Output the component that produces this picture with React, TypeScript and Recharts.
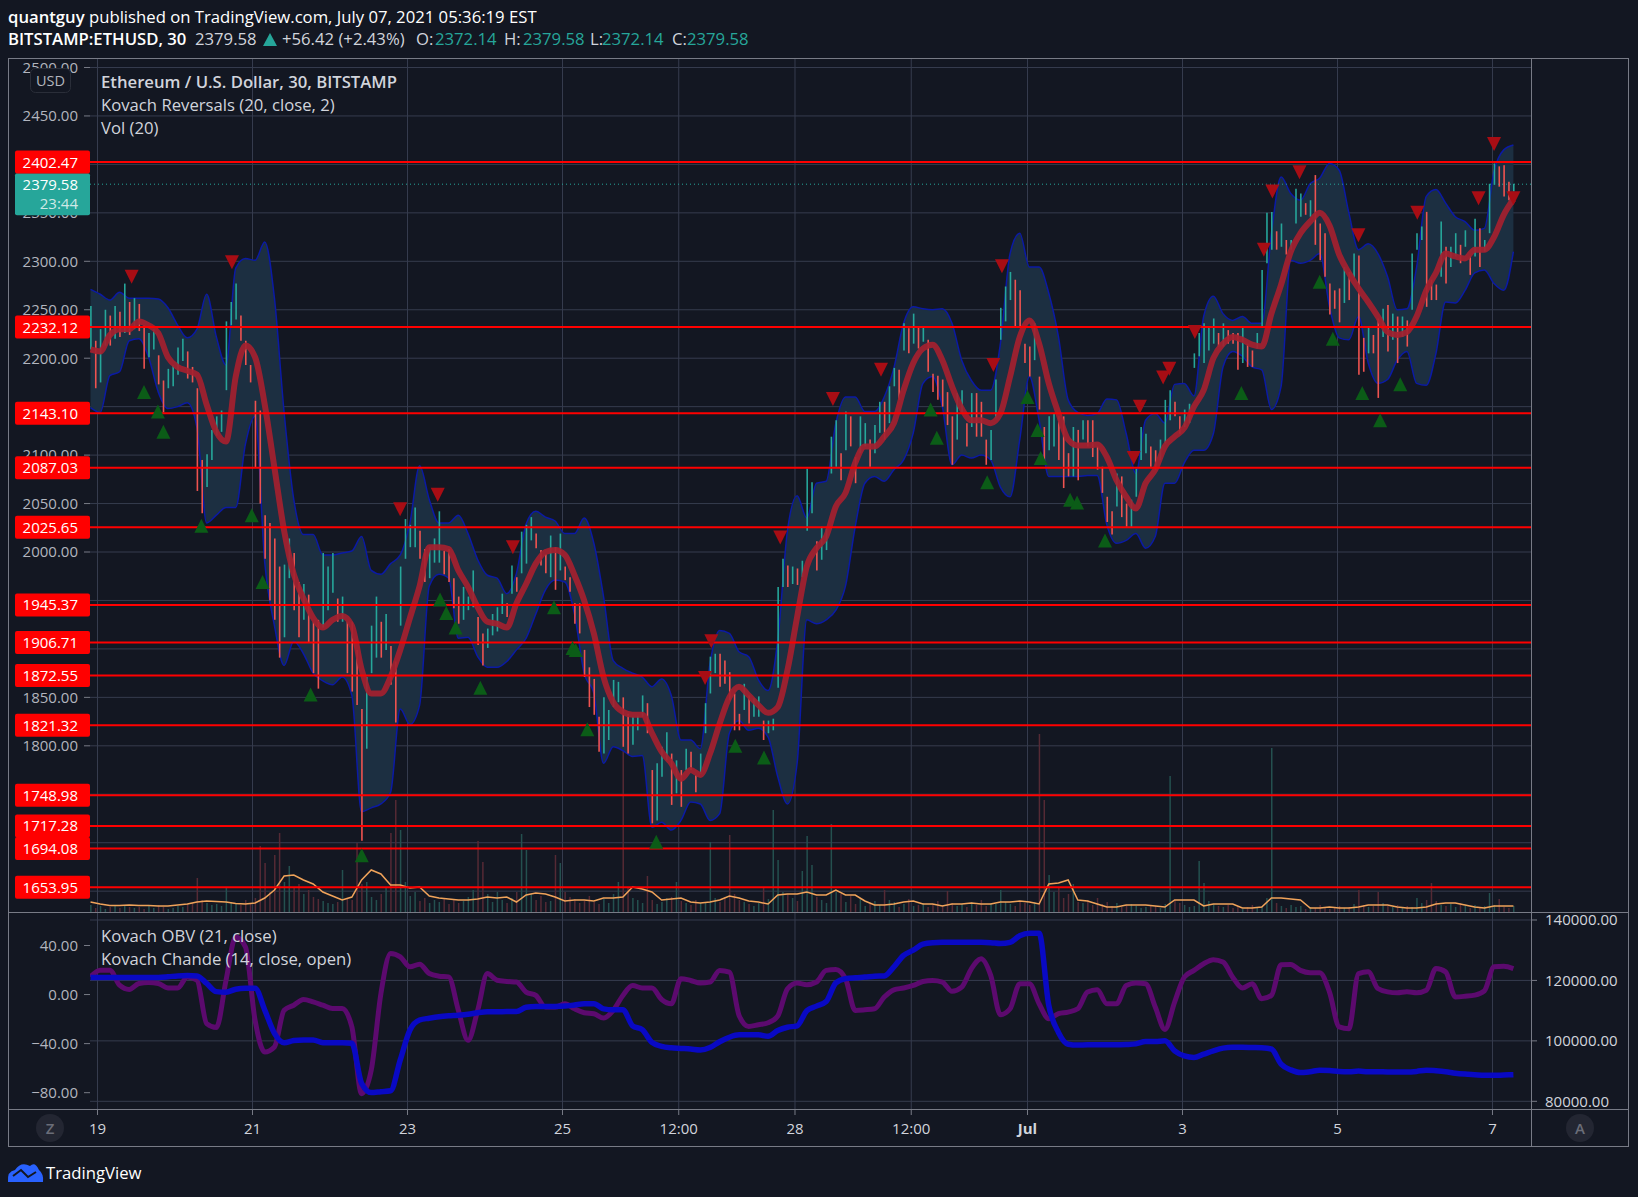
import {
  Area,
  Bar,
  CartesianGrid,
  Cell,
  ComposedChart,
  Line,
  ReferenceLine,
  Scatter,
  XAxis,
  YAxis,
} from "recharts";

// ── Values ───────────────────────────────────────────────────────────────────
// Candles are sampled every three 30-minute bars, the indicator lines every six.
const candleHigh = [
  2254,2218,2230,2250,2244,2254,2248,2277,2258,2262,
  2256,2234,2226,2230,2203,2177,2189,2193,2211,2220,
  2207,2191,2169,2095,2101,2126,2140,2146,2238,2258,
  2277,2244,2218,2193,2156,2146,2038,2030,2014,1985,
  1987,2014,1999,1969,1967,1956,1928,1930,1999,1985,
  1999,1952,1954,1928,1928,1899,1838,1871,1924,1954,
  1928,1936,1903,1887,1985,2034,2028,2046,2022,2003,
  2005,2014,2042,2001,2003,1973,1954,1964,1954,1981,
  1933,1916,1921,1936,1943,1957,1947,1986,1974,2021,
  2028,2036,2019,2002,1998,2017,2005,2019,1985,1974,
  1947,1947,1899,1881,1869,1830,1850,1837,1868,1866,
  1850,1833,1830,1831,1852,1844,1775,1782,1799,1814,
  1792,1785,1775,1797,1794,1770,1792,1844,1892,1895,
  1895,1888,1876,1854,1833,1864,1852,1849,1851,1826,
  1826,1828,1964,1993,1986,1985,1983,1991,2086,2072,
  2011,2026,2024,2119,2136,2102,2145,2140,2098,2140,
  2133,2116,2131,2155,2155,2171,2190,2188,2236,2231,
  2246,2233,2233,2219,2184,2182,2178,2165,2140,2164,
  2167,2133,2164,2164,2155,2116,2126,2178,2252,2274,
  2289,2281,2270,2215,2212,2236,2181,2129,2140,2143,
  2140,2140,2102,2129,2126,2136,2136,2136,2109,2088,
  2057,2042,2081,2078,2050,2054,2086,2129,2122,2109,
  2105,2116,2157,2167,2155,2140,2147,2153,2205,2226,
  2236,2233,2241,2226,2236,2229,2226,2226,2233,2215,
  2208,2226,2291,2350,2351,2331,2339,2322,2322,2375,
  2370,2360,2363,2389,2339,2329,2277,2270,2272,2294,
  2289,2308,2306,2221,2233,2224,2241,2251,2255,2246,
  2243,2243,2239,2308,2329,2336,2351,2281,2276,2341,
  2315,2315,2329,2317,2332,2305,2344,2334,2322,2380,
  2401,2398,2399,2382,2380,
];
const candleLow = [
  2209,2169,2175,2213,2213,2220,2222,2226,2224,2230,
  2228,2189,2201,2209,2173,2144,2169,2171,2183,2197,
  2179,2175,2063,2040,2067,2095,2120,2124,2167,2234,
  2240,2218,2193,2175,2087,2050,1993,1950,1930,1891,
  1912,1973,1940,1912,1930,1907,1875,1859,1922,1940,
  1958,1928,1928,1875,1856,1842,1702,1797,1875,1891,
  1891,1899,1863,1824,1924,1993,2005,2005,1993,1969,
  1973,1989,1989,1977,1969,1942,1926,1930,1940,1943,
  1904,1883,1901,1914,1918,1936,1933,1957,1959,1978,
  1988,2012,2004,1986,1978,1974,1961,1981,1971,1959,
  1926,1916,1871,1840,1832,1794,1792,1806,1840,1845,
  1799,1792,1801,1816,1830,1813,1720,1723,1768,1785,
  1739,1751,1737,1775,1775,1752,1771,1813,1854,1875,
  1861,1864,1847,1816,1816,1837,1823,1830,1830,1806,
  1813,1816,1860,1964,1964,1967,1966,1974,2022,2040,
  1981,1992,2002,2081,2088,2074,2105,2109,2071,2102,
  2109,2088,2102,2123,2116,2133,2171,2157,2208,2205,
  2215,2210,2217,2186,2165,2157,2150,2131,2090,2116,
  2143,2109,2129,2119,2119,2090,2095,2138,2219,2238,
  2260,2233,2233,2195,2181,2198,2147,2090,2105,2109,
  2095,2066,2078,2078,2074,2116,2109,2098,2085,2061,
  2031,2018,2047,2036,2026,2026,2057,2095,2102,2088,
  2085,2095,2112,2136,2140,2122,2129,2133,2190,2202,
  2195,2208,2215,2212,2212,2215,2215,2188,2195,2191,
  2191,2210,2233,2298,2312,2312,2315,2307,2312,2339,
  2346,2348,2346,2317,2301,2284,2245,2251,2237,2257,
  2260,2283,2183,2186,2205,2205,2159,2222,2207,2219,
  2195,2222,2212,2250,2312,2322,2253,2260,2260,2284,
  2277,2294,2305,2298,2315,2286,2305,2294,2310,2329,
  2379,2377,2367,2363,2372,
];
const volume = [
  7,4,6,3,5,7,4,6,5,4, 5,3,6,4,7,5,3,4,6,5,
  8,9,34,12,9,7,8,6,24,10, 9,7,12,8,14,66,49,20,57,79,
  30,46,24,28,18,22,15,13,11,9, 8,10,42,14,12,69,28,30,15,12,
  18,25,79,112,82,30,16,20,11,14, 9,12,10,14,8,13,9,11,15,22,
  71,50,18,10,20,12,9,14,20,78, 62,18,12,16,10,11,57,49,20,15,
  13,9,11,16,10,8,13,9,18,30, 165,24,14,12,9,36,12,8,10,14,
  15,30,11,9,7,12,9,10,70,14, 10,15,77,18,12,10,8,6,9,24,
  13,102,52,20,18,14,11,41,76,47, 15,12,9,88,20,18,10,16,8,14,
  6,9,11,7,22,12,10,5,8,13, 6,7,9,5,8,11,7,21,9,6,
  8,5,10,7,12,6,9,8,22,10, 8,6,11,9,7,10,178,112,37,20,
  25,14,18,28,10,9,12,7,14,8, 10,6,9,5,7,8,6,4,5,7,
  6,4,8,136,12,9,7,5,6,51, 29,11,8,6,5,7,4,6,3,5,
  7,4,5,14,164,9,6,4,7,5, 6,3,5,4,7,5,3,4,6,4,
  5,8,22,7,5,6,20,9,6,5, 7,4,6,5,14,9,12,29,11,7,
  6,8,5,9,6,4,7,5,6,19, 7,13,5,4,6,
];
const upperBand = [
  2271,2266,2260,2268,2262,2262,2262,2261,2252,2234,2221,2230,2266,2222,2193,2293,2303,2301,2320,2262,
  2144,2054,2018,2018,1997,1997,1999,2001,2016,1981,1977,1988,1997,2030,2089,2054,2030,2030,
  2038,2019,1992,1976,1973,1957,1978,2029,2042,2036,2032,2019,2019,2035,2009,1954,1888,1880,1875,1871,
  1861,1869,1852,1806,1806,1797,1885,1919,1916,1897,1892,1868,1857,1909,2022,2058,2035,2071,
  2073,2133,2160,2160,2145,2145,2160,2190,2236,2253,2251,2250,2251,2236,2198,2177,2167,2167,2215,2308,
  2329,2294,2294,2267,2222,2157,2144,2141,2143,2158,2157,2122,2081,2136,2143,2133,2173,2174,2161,
  2243,2264,2246,2239,2243,2236,2236,2329,2387,2370,2363,2380,2386,2401,2394,2350,2312,2318,2308,2284,
  2250,2251,2294,2367,2374,2360,2346,2341,2332,2334,2393,2415,2420,
];
const lowerBand = [
  2149,2144,2182,2186,2218,2220,2201,2165,2148,2150,2154,2128,2030,2038,2046,2046,2111,2140,1989,1924,
  1883,1908,1895,1875,1867,1863,1871,1852,1732,1736,1740,1752,1838,1822,1842,1965,1977,1973,
  1911,1912,1892,1881,1881,1887,1899,1911,1936,1961,1971,1969,1936,1875,1854,1782,1799,1795,1789,1790,
  1716,1721,1713,1723,1742,1740,1723,1730,1813,1826,1816,1818,1809,1768,1740,1782,1930,1926,
  1930,1940,1965,2026,2071,2078,2073,2085,2095,2123,2174,2181,2150,2090,2100,2097,2100,2095,2067,2057,
  2116,2181,2136,2078,2078,2078,2078,2079,2079,2028,2009,2012,2019,2004,2016,2071,2071,2092,2105,
  2105,2122,2191,2207,2202,2191,2188,2147,2171,2301,2298,2301,2308,2253,2221,2219,2243,2195,2174,2178,
  2198,2207,2174,2172,2205,2258,2257,2270,2288,2291,2277,2270,2310,
];
const middleBand = [
  2209,2207,2224,2230,2230,2238,2234,2226,2201,2191,2187,2183,2152,2124,2114,2181,2213,2201,2152,2087,
  2022,1977,1952,1932,1922,1930,1934,1924,1879,1854,1854,1871,1899,1932,1965,2005,2005,2003,
  1981,1964,1943,1928,1926,1922,1947,1967,1988,2000,2002,1997,1976,1950,1916,1871,1845,1835,1832,1832,
  1813,1794,1782,1766,1775,1770,1792,1823,1850,1861,1852,1842,1834,1840,1878,1933,1985,2004,
  2016,2047,2061,2092,2109,2109,2119,2133,2167,2195,2210,2214,2198,2171,2148,2136,2136,2133,2143,2181,
  2222,2239,2215,2174,2143,2116,2110,2110,2111,2098,2074,2057,2045,2071,2085,2109,2119,2128,2150,
  2167,2200,2215,2222,2219,2214,2212,2246,2276,2310,2329,2341,2350,2337,2307,2288,2272,2258,2243,2227,
  2224,2227,2243,2270,2288,2308,2305,2303,2312,2312,2325,2348,2364,
];
const volumeAverage = [
  10,8,6.5,6.5,7,6.5,6.5,6,6,7, 8,10,11,10.5,10,8.5,8,9,14,22,
  36,37,32,28,20,16,12,15,32,42, 38,27,27,24,25,16,14,13,12,12,
  13,15,14,15,10,17,19,18,15,11, 12,12,11,14,14,15,25,23,20,12,
  13,14,10,9,10,12,16,14,11,10, 8,17,18,18,20,17,17,22,17,17,
  11,7,7,8,10,11,8,8,6,8, 8,9,8,8,10,10,11,10,8,28,
  29,32,12,11,8,5,5,7,7,7, 6,5,12,12,12,6,8,8,8,4,
  4,5,14,14,13,12,4,4,5,4, 4,5,7,7,7,5,4,4,5,8,
  9,9,7,5,4,6,6,6,
];
const chandeValues = [
  14.4,19.9,19.9,7.6,4.1,9,9.8,9,5.4,5.4,
  14.4,11.7,-23.7,-26.9,11.7,47,38.9,-21,-46.8,-42.7,
  -12.8,-8.7,-4.1,-6,-8.7,-11.4,-11.4,-26.4,-80.8,-61.8,
  0.8,33.5,30.7,22.6,24.8,17.1,15,14.4,-12.8,-37.3,
  -12.8,17.1,11.7,10.7,10.2,2,-0.7,-10.2,-10.2,-7.5,
  -11.6,-14.8,-15.6,-19.2,-12.9,-0.7,7.4,5.3,5.3,-4,
  -7.5,12.9,11.5,9.4,10.2,19.7,18.3,-17,-26,-24.6,
  -23,-17.5,4.7,9.4,8,10.2,19.7,20.5,12.9,-12.9,
  -12.4,-11.6,-2,3.9,5.3,7.4,10.7,11.5,10.2,2.6,
  6,21,29.2,15.6,-16.5,-11.6,8.8,8.8,-7.5,-19.7,
  -15.6,-14.3,-11.6,2,3.9,-7.5,-7.5,7.4,9.4,8.8,
  -10.2,-28.4,-6.1,14.2,19.7,25.1,28.4,26.5,14.2,5.3,
  8.8,-3.4,-0.7,24.3,24.6,19.7,17.8,17.8,2,-26.4,
  -27.8,17.1,18.5,4.9,2.2,1.4,2.2,1.4,3.5,21.2,
  18.5,-1.9,-1.4,-0.5,3,22.6,23.1,21.2,
];
const obvValues = [
  121000,121000,121000,121000,121000,121000,121000,121000,121200,121500,
  121600,121500,119000,116300,116100,117100,117400,117400,110200,102500,
  99400,100100,100300,100300,99400,99400,99400,99200,86000,82900,
  83200,83500,93700,103600,106900,107500,108000,108300,108500,108800,
  109300,109600,109600,109700,109700,111100,111400,111400,111400,111500,
  111900,112300,112300,110600,110300,110300,105000,103700,99500,98200,
  97700,97500,97300,97000,97800,99700,101200,102000,102000,102000,
  101500,103400,104500,105000,110000,111500,113000,119200,120600,120900,
  121100,121400,121500,124500,128300,130000,132000,132500,132600,132600,
  132600,132600,132600,132500,132200,132600,134800,135600,135600,111700,
  102800,98900,98600,98700,98700,98700,98700,98800,99000,99800,
  99800,100000,96700,95000,94500,95600,96700,97600,97900,97900,
  97800,97700,97300,92300,90400,89500,89800,90300,90200,89900,
  89800,90000,89800,89800,89700,89700,89700,89900,90300,90100,
  89800,89300,89000,88800,88600,88600,88700,88800,
];

const sellDays = [0.44,1.735,3.905,4.39,5.36,7.92,7.84,8.81,9.49,10.11,11.56,11.67,13.37,13.45,13.75,13.83,14.16,15.05,15.16,15.51,16.27,17.03,17.82,18.02,18.27];
const sellPrices = [2284,2299,2044,2059,2005,1908,1870,2015,2158,2188,2193,2295,2097,2150,2180,2189,2227,2312,2372,2392,2327,2350,2365,2421,2365];
const buyDays = [0.6,0.78,0.85,1.34,1.99,2.13,2.75,3.41,4.42,4.5,4.62,4.94,5.89,6.13,6.17,6.32,7.21,8.23,8.6,10.75,10.83,11.48,12,12.13,12.17,12.55,12.64,13,14.76,15.77,15.94,16.32,16.55,16.81];
const buyPrices = [2165,2145,2124,2027,2038,1969,1853,1687,1951,1937,1922,1860,1943,1901,1899,1817,1701,1800,1788,2147,2118,2072,2160,2126,2097,2054,2051,2012,2164,2279,2220,2164,2136,2173];

const levels = [2402.47,2232.12,2143.1,2087.03,2025.65,1945.37,1906.71,1872.55,1821.32,1748.98,1717.28,1694.08,1653.95];
const lastPrice = 2379.58;
const priceTicks = [1650,1700,1750,1800,1850,1900,1950,2000,2050,2100,2150,2200,2250,2300,2350,2400,2450,2500];
const chandeTicks = [-80,-40,0,40];
const obvTicks = [80000,100000,120000,140000];
const dayTicks = [0,2,4,6,7.5,9,10.5,12,14,16,18];
const dayLabels = ["19","21","23","25","12:00","28","12:00","Jul","3","5","7"];

// ── Tables ───────────────────────────────────────────────────────────────────
const FIRST_DAY = -0.09;
const CANDLE_STEP = (18.27 - FIRST_DAY) / 294;
const DAY_MIN = -0.0968;
const DAY_MAX = 18.497;
const PRICE_DOMAIN = [1628.5, 2508.77];

const rows = candleHigh.map((high, i) => {
  const line = i % 2 === 0 ? i / 2 : -1;
  return {
    t: FIRST_DAY + i * CANDLE_STEP,
    span: [candleLow[i], high],
    vol: volume[i],
    band: line >= 0 ? [lowerBand[line], upperBand[line]] : null,
    mid: line >= 0 ? middleBand[line] : null,
    volAvg: line >= 0 ? volumeAverage[line] : null,
  };
});
const lowerRows = chandeValues.map((v, i) => ({
  t: FIRST_DAY + i * 2 * CANDLE_STEP,
  chande: v,
  obv: obvValues[i],
}));
const sells = sellDays.map((t, i) => ({ t, price: sellPrices[i] }));
const buys = buyDays.map((t, i) => ({ t, price: buyPrices[i] }));

const isUp = (i: number) =>
  i === 0 || candleHigh[i] + candleLow[i] >= candleHigh[i - 1] + candleLow[i - 1];

const BG = "#131722";
const GRID = "#363c4e";
const BORDER = "#787b86";
const TEXT = "#b2b5be";
const LIGHT = "#d1d4dc";
const TEAL = "#26a69a";
const CANDLE_RED = "#ef5350";
const FONT = "'Open Sans', sans-serif";
const PANE_MARGIN = { top: 59, right: 0, bottom: 0, left: 90 };

function SellMark(p: any) {
  const { cx, cy } = p;
  return <path d={`M${cx - 7} ${cy - 7}L${cx + 7} ${cy - 7}L${cx} ${cy + 7}Z`} fill="#a80d14" />;
}
function BuyMark(p: any) {
  const { cx, cy } = p;
  return <path d={`M${cx - 7} ${cy + 7}L${cx + 7} ${cy + 7}L${cx} ${cy - 7}Z`} fill="#0b5c17" />;
}

function levelLabel(value: number) {
  return (p: any) => {
    const y = p.viewBox.y;
    return (
      <g>
        <rect x={15} y={y - 11.5} width={75} height={23} rx={2} fill="#ff0000" />
        <text x={78} y={y + 5.5} textAnchor="end" fontSize={15} fontFamily={FONT} fill="#ffffff">
          {value.toFixed(2)}
        </text>
      </g>
    );
  };
}

function lastLabel(p: any) {
  const y = p.viewBox.y;
  return (
    <g fontSize={15} fontFamily={FONT} fill="#ffffff" textAnchor="end">
      <rect x={15} y={y - 11} width={75} height={42} rx={2} fill={TEAL} />
      <text x={78} y={y + 5.5}>{lastPrice.toFixed(2)}</text>
      <text x={78} y={y + 24.5} fill="#cfe9e6">23:44</text>
    </g>
  );
}

function DayTick(p: any) {
  const { x, y, payload, index } = p;
  const label = dayLabels[index];
  return (
    <text x={x} y={y + 17} textAnchor="middle" fontSize={15} fontFamily={FONT} fill={LIGHT}
      fontWeight={label === "Jul" ? 700 : 400}>
      {label ?? payload.value}
    </text>
  );
}

const abs = (left: number, top: number, extra: any = {}) => ({
  position: "absolute" as const, left, top, whiteSpace: "pre" as const, ...extra,
});

const hiddenAxes = () => [
  <XAxis key="x" dataKey="t" type="number" domain={[DAY_MIN, DAY_MAX]} ticks={dayTicks} allowDataOverflow hide />,
  <YAxis key="y" domain={PRICE_DOMAIN} ticks={priceTicks} allowDataOverflow hide />,
  <YAxis key="v" yAxisId="vol" domain={[0, 853]} allowDataOverflow hide />,
];

export default function App() {
  const legend = { color: LIGHT, fontSize: 16.7, lineHeight: "20px" };
  const head = { color: LIGHT, fontSize: 16.7 };
  const headTeal = { color: TEAL, fontSize: 16.7 };
  return (
    <div style={{ position: "absolute", left: 0, top: 0, width: 1638, height: 1197, background: BG, fontFamily: FONT, overflow: "hidden" }}>
      {/* layers of the price pane, back to front */}
      <div style={abs(0, 0)}>
        <ComposedChart width={1531} height={912} data={rows} margin={{ top: 59, right: 0, bottom: 0, left: 8 }}>
          <CartesianGrid stroke={GRID} horizontalValues={priceTicks} verticalValues={dayTicks} />
          <XAxis dataKey="t" type="number" domain={[DAY_MIN, DAY_MAX]} ticks={dayTicks} allowDataOverflow hide />
          <YAxis domain={PRICE_DOMAIN} ticks={priceTicks} allowDataOverflow width={82} tickFormatter={(v) => v.toFixed(2)}
            tick={{ fill: TEXT, fontSize: 15, fontFamily: FONT }} tickLine={{ stroke: BORDER }} axisLine={false} tickSize={6} tickMargin={6} interval={0} />
          <YAxis yAxisId="vol" domain={[0, 853]} hide />
          <Bar yAxisId="vol" dataKey="vol" barSize={1.5} isAnimationActive={false}>
            {rows.map((_, i) => (
              <Cell key={i} fill={isUp(i) ? "#24504f" : "#552a35"} />
            ))}
          </Bar>
        </ComposedChart>
      </div>

      <div style={abs(0, 0)}>
        <ComposedChart width={1531} height={912} data={rows} margin={PANE_MARGIN}>
          {hiddenAxes()}
          <Area dataKey="band" connectNulls type="monotone" stroke="#0b1aa5" strokeWidth={1.5} fill="#1c2f41" fillOpacity={1} dot={false} isAnimationActive={false} />
        </ComposedChart>
      </div>

      <div style={abs(0, 0)}>
        <ComposedChart width={1531} height={912} data={rows} margin={PANE_MARGIN}>
          {hiddenAxes()}
          <Bar dataKey="span" barSize={1.6} isAnimationActive={false}>
            {rows.map((_, i) => (
              <Cell key={i} fill={isUp(i) ? TEAL : CANDLE_RED} />
            ))}
          </Bar>
        </ComposedChart>
      </div>

      <div style={abs(0, 0)}>
        <ComposedChart width={1531} height={912} data={rows} margin={PANE_MARGIN}>
          {hiddenAxes()}
          <Scatter data={sells} dataKey="price" shape={SellMark} isAnimationActive={false} />
          <Scatter data={buys} dataKey="price" shape={BuyMark} isAnimationActive={false} />
          <Line dataKey="mid" connectNulls type="monotone" stroke="#a4212f" strokeOpacity={0.92} strokeWidth={6} dot={false} isAnimationActive={false} />
          <Line yAxisId="vol" dataKey="volAvg" connectNulls type="linear" stroke="#f0a35a" strokeWidth={1.5} dot={false} isAnimationActive={false} />
          <ReferenceLine y={lastPrice} stroke={TEAL} strokeDasharray="1 3" label={lastLabel} />
          {levels.map((v) => (
            <ReferenceLine key={v} y={v} stroke="#ff0000" strokeWidth={2} label={levelLabel(v)} />
          ))}
        </ComposedChart>
      </div>

      {/* lower pane: Chande on the left scale, OBV on the right */}
      <div style={abs(0, 892)}>
        <ComposedChart width={1638} height={255} data={lowerRows} margin={{ top: 20, right: 9, bottom: 0, left: 8 }}>
          <CartesianGrid stroke={GRID} yAxisId="obv" horizontalValues={obvTicks} verticalValues={dayTicks} />
          <XAxis dataKey="t" type="number" domain={[DAY_MIN, DAY_MAX]} ticks={dayTicks} allowDataOverflow interval={0} height={38}
            tick={DayTick} tickLine={{ stroke: BORDER }} axisLine={false} tickSize={6} />
          <YAxis yAxisId="chande" domain={[-93.3, 67.3]} ticks={chandeTicks} width={82} allowDataOverflow tickFormatter={(v) => v.toFixed(2).replace("-", "\u2212")} interval={0}
            tick={{ fill: TEXT, fontSize: 15, fontFamily: FONT }} tickLine={{ stroke: BORDER }} axisLine={false} tickSize={6} tickMargin={6} />
          <YAxis yAxisId="obv" orientation="right" domain={[77455, 142645]} ticks={obvTicks} width={98} allowDataOverflow tickFormatter={(v) => v.toFixed(2)} interval={0}
            tick={{ fill: LIGHT, fontSize: 15, fontFamily: FONT }} tickLine={{ stroke: BORDER }} axisLine={false} tickSize={6} tickMargin={8} />
          <Line yAxisId="chande" dataKey="chande" type="monotone" stroke="#5c0a6e" strokeWidth={5} dot={false} isAnimationActive={false} />
          <Line yAxisId="obv" dataKey="obv" type="monotone" stroke="#0909c4" strokeWidth={5.5} dot={false} isAnimationActive={false} />
        </ComposedChart>
      </div>

      {/* frame and side buttons */}
      <svg width={1638} height={1197} style={{ position: "absolute", left: 0, top: 0, pointerEvents: "none" }}>
        <rect x={8.5} y={58.5} width={1620} height={1088} fill="none" stroke={BORDER} />
        <line x1={1531.5} x2={1531.5} y1={58} y2={1147} stroke={BORDER} />
        <line x1={8} x2={1629} y1={912.5} y2={912.5} stroke={BORDER} />
        <line x1={8} x2={1629} y1={1109.5} y2={1109.5} stroke={BORDER} />
        <rect x={30.5} y={68.5} width={40} height={24} rx={5} fill={BG} stroke="#2a2e39" />
        <text x={50.5} y={86} textAnchor="middle" fontSize={14.5} fontFamily={FONT} fill={TEXT}>USD</text>
        <circle cx={50} cy={1128} r={14} fill="#232632" />
        <text x={50} y={1134} textAnchor="middle" fontSize={15} fontWeight={600} fontFamily={FONT} fill="#6a6d78">Z</text>
        <circle cx={1580} cy={1128} r={14} fill="#232632" />
        <text x={1580} y={1134} textAnchor="middle" fontSize={15} fontWeight={600} fontFamily={FONT} fill="#6a6d78">A</text>
        <path d="M8 1182 Q7 1171 15 1170 Q21 1161 30 1166 Q35 1161 39 1170 Q44 1174 43 1182 Z" fill="#2962ff" />
        <path d="M13 1176 L21 1170 L28 1177 L36 1172" fill="none" stroke={BG} strokeWidth={2} />
      </svg>

      {/* header */}
      <div style={abs(8, 5, { color: "#ffffff", fontSize: 16.7 })}>
        <b style={{ fontWeight: 600 }}>quantguy</b> published on TradingView.com, July 07, 2021 05:36:19 EST
      </div>
      <div style={abs(8, 27, { color: "#ffffff", fontSize: 16.7, fontWeight: 600 })}>BITSTAMP:ETHUSD, 30</div>
      <div style={abs(195, 27, head)}>2379.58</div>
      <svg width={14} height={13} style={abs(263, 33)}><path d="M0 13L14 13L7 0Z" fill={TEAL} /></svg>
      <div style={abs(282, 27, head)}>+56.42 (+2.43%)</div>
      <div style={abs(416, 27, head)}>O:</div>
      <div style={abs(435, 27, headTeal)}>2372.14</div>
      <div style={abs(504, 27, head)}>H:</div>
      <div style={abs(523, 27, headTeal)}>2379.58</div>
      <div style={abs(590, 27, head)}>L:</div>
      <div style={abs(602, 27, headTeal)}>2372.14</div>
      <div style={abs(672, 27, head)}>C:</div>
      <div style={abs(687, 27, headTeal)}>2379.58</div>

      {/* pane legends */}
      <div style={abs(101, 72, { ...legend, fontWeight: 600 })}>Ethereum / U.S. Dollar, 30, BITSTAMP</div>
      <div style={abs(101, 95, legend)}>Kovach Reversals (20, close, 2)</div>
      <div style={abs(101, 118, legend)}>Vol (20)</div>
      <div style={abs(101, 926, legend)}>Kovach OBV (21, close)</div>
      <div style={abs(101, 949, legend)}>Kovach Chande (14, close, open)</div>

      <div style={abs(46, 1161, { color: "#ffffff", fontSize: 16.7 })}>TradingView</div>
    </div>
  );
}
